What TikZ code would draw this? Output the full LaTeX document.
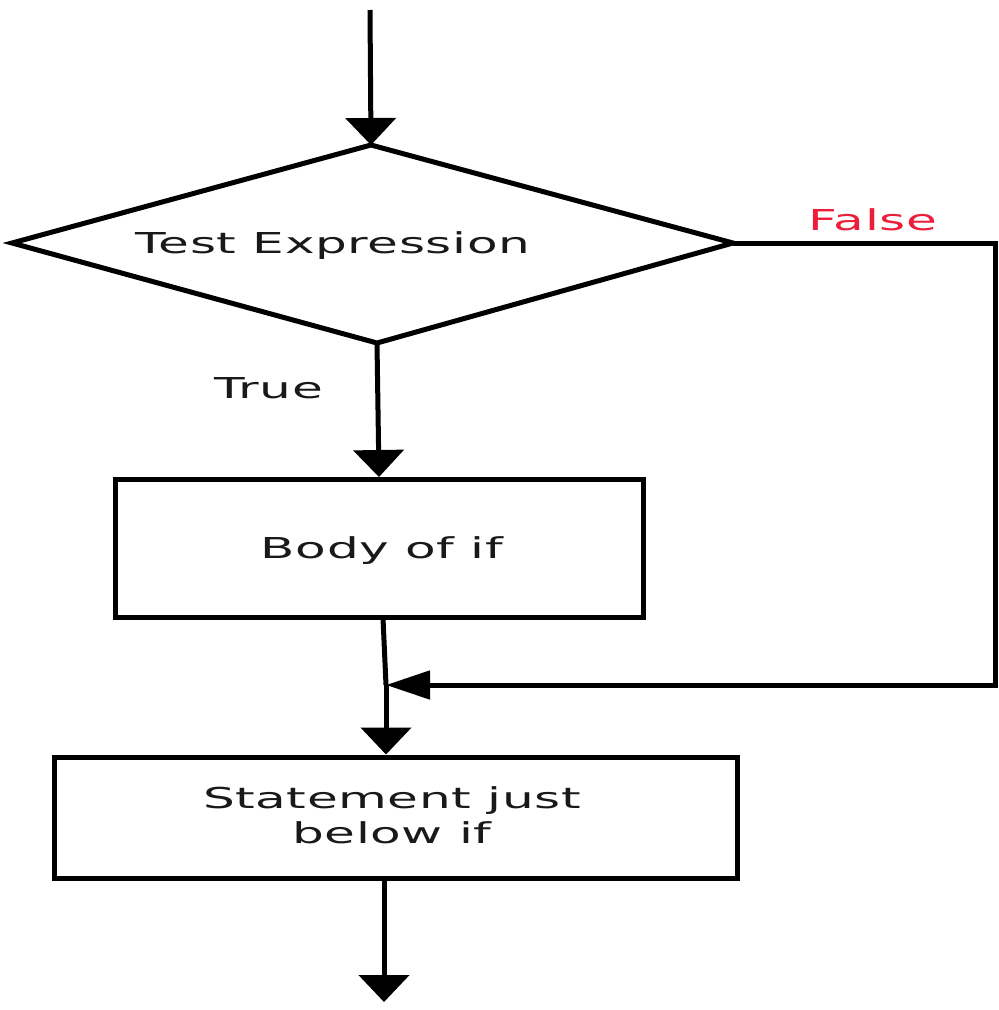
\documentclass[tikz,border=0pt]{standalone}
\usepackage{fontspec}
\usetikzlibrary{arrows.meta}
\newfontfamily\dv[FakeStretch=1.74,LetterSpace=2]{DejaVu Sans}
\definecolor{falsered}{RGB}{236,30,58}
\definecolor{txt}{RGB}{25,25,25}
\begin{document}
\begin{tikzpicture}[x=1pt,y=-1pt,line width=5pt,
  lbl/.style={font=\dv\fontsize{28.8}{35}\selectfont,text=txt,inner sep=0pt,anchor=base},
  box/.style={draw,line width=5pt,inner sep=0pt},
  dtip/.style={-{Triangle[width=50pt,length=27pt]}},
  ltip/.style={-{Triangle[width=28pt,length=44pt]}}]
\useasboundingbox (0,0) rectangle (999,1010);
% diamond
\coordinate (dtop) at (371,145);
\coordinate (dleft) at (12,243);
\coordinate (dright) at (733,243);
\coordinate (dbot) at (377,343);
\draw[line join=miter] (dtop) -- (dright) -- (dbot) -- (dleft) -- cycle;
% boxes
\node[box,minimum width=528pt,minimum height=138pt] (body) at (379,548.5) {};
\node[box,minimum width=683pt,minimum height=121pt] (stmt) at (395.5,817.5) {};
% labels
\node[lbl] (texp) at (333,253) {Test Expression};
\node[lbl,text=falsered] (flbl) at (873,230) {False};
\node[lbl] (tlbl) at (269,398) {True};
\node[lbl] (btxt) at (382,558) {Body of if};
\node[lbl,align=center] (stxt) at (392,843) {Statement just\\below if};
% connectors
\coordinate (start) at (370,10);
\coordinate (bout) at (383,618);
\coordinate (j) at (386,685);
\coordinate (fc1) at (995,243);
\coordinate (fc2) at (995,685);
\coordinate (endpt) at (384,1002);
\draw[dtip] (start) -- (dtop);
\draw[dtip] (dbot) -- (body.north);
\draw (bout) -- (j);
\draw[dtip] (j) -- (j |- stmt.north);
\draw[ltip,line join=miter] (dright) -- (fc1) -- (fc2) -- (j);
\draw[dtip] (stmt.south -| endpt) -- (endpt);
\end{tikzpicture}
\end{document}
